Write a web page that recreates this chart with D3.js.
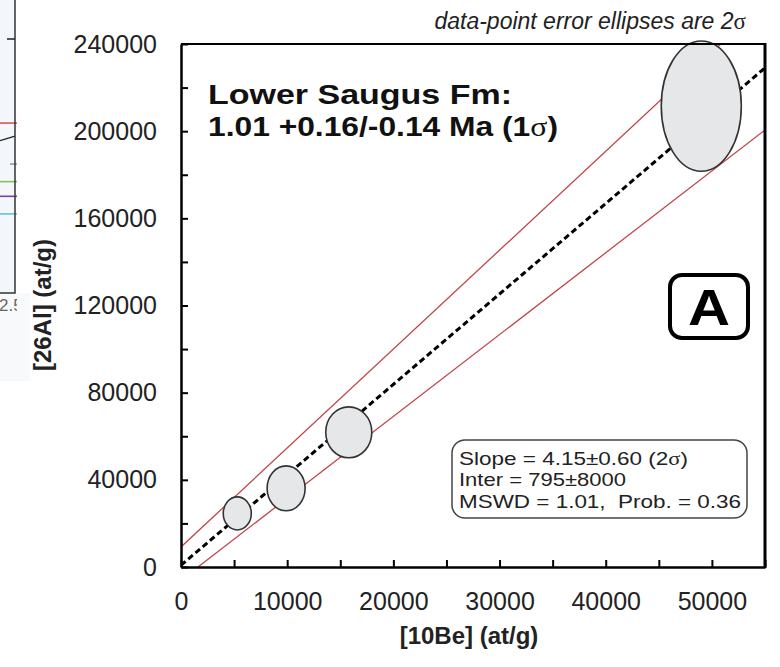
<!DOCTYPE html>
<html>
<head>
<meta charset="utf-8">
<script src="https://cdn.jsdelivr.net/npm/d3@7"></script>
<style>
  html, body { margin: 0; padding: 0; background: #fff; }
  svg { display: block; font-family: "Liberation Sans", Arial, sans-serif; }
</style>
</head>
<body>
<svg id="chart" width="780" height="667"></svg>
<script>
// ---------- data ----------
const be10 = [5300, 9900, 15800, 49000];          // ellipse centres, [10Be] (at/g)
const al26 = [24600, 36100, 61800, 211500];       // ellipse centres, [26Al] (at/g)
const be10Err = [1320, 1790, 2170, 3770];         // ellipse half-widths (2σ)
const al26Err = [7600, 10300, 11700, 29900];      // ellipse half-heights (2σ)

const fitSlope = 4.15, fitIntercept = 795;        // isochron fit
const envSlopes = [4.54, 3.755];                  // error envelope (upper, lower)
const envIntercepts = [9200, -6000];

const xTicks = [0, 5000, 10000, 15000, 20000, 25000, 30000, 35000, 40000, 45000, 50000, 55000];
const xTickLabels = ["0", "", "10000", "", "20000", "", "30000", "", "40000", "", "50000", ""];
const yTicks = [0, 20000, 40000, 60000, 80000, 100000, 120000, 140000, 160000, 180000, 200000, 220000, 240000];
const yTickLabels = ["0", "", "40000", "", "80000", "", "120000", "", "160000", "", "200000", "", "240000"];

const statLines = ["Slope = 4.15±0.60 (2σ)", "Inter = 795±8000", "MSWD = 1.01,\u00a0\u00a0Prob. = 0.36"];

// fragment of the neighbouring panel (cut off at left edge)
const fragLevels = [0.58, 0.44, 0.38, 0.33, 0.27];
const fragColors = ["#e0524f", "#9a9a9a", "#8cc152", "#7b3fa8", "#5ec3e0"];

// ---------- layout ----------
const svg = d3.select("#chart");
const L = 181, R = 765, T = 44, B = 567;
const x = d3.scaleLinear().domain([0, 55000]).range([L, R]);
const y = d3.scaleLinear().domain([0, 240000]).range([B, T]);

// neighbour panel fragment
const fy = d3.scaleLinear().domain([0, 1]).range([293, 0]);
svg.append("rect").attr("x", 0).attr("y", 0).attr("width", 15).attr("height", 293).attr("fill", "#f3f6fa");
svg.append("rect").attr("x", 0).attr("y", 293).attr("width", 30).attr("height", 88).attr("fill", "#f8f9fb");
svg.selectAll("line.frag").data(fragLevels).join("line").attr("class", "frag")
  .attr("x1", (d, i) => i === 1 ? 10 : 0).attr("x2", 17)
  .attr("y1", d => fy(d)).attr("y2", d => fy(d))
  .attr("stroke", (d, i) => fragColors[i]).attr("stroke-width", 1.6);
svg.append("line").attr("x1", 0).attr("x2", 15).attr("y1", fy(0.52)).attr("y2", fy(0.535))
  .attr("stroke", "#222").attr("stroke-width", 1.3);
svg.append("path").attr("d", "M15,0V293H0").attr("fill", "none").attr("stroke", "#333").attr("stroke-width", 1.5);
svg.append("line").attr("x1", 7).attr("x2", 15).attr("y1", 39).attr("y2", 39).attr("stroke", "#222").attr("stroke-width", 1.5);
svg.append("clipPath").attr("id", "fragclip").append("rect").attr("x", 0).attr("y", 280).attr("width", 17).attr("height", 40);
svg.append("text").attr("x", -1).attr("y", 311).attr("clip-path", "url(#fragclip)")
  .attr("font-size", 17).attr("fill", "#666").text("2.5");

// clip for plot content
svg.append("clipPath").attr("id", "plotclip").append("rect")
  .attr("x", L).attr("y", T).attr("width", R - L).attr("height", B - T);

// envelope lines
const xDom = x.domain();
svg.append("g").attr("clip-path", "url(#plotclip)")
  .selectAll("line").data(envSlopes).join("line")
  .attr("x1", x(xDom[0])).attr("x2", x(xDom[1]))
  .attr("y1", (s, i) => y(s * xDom[0] + envIntercepts[i]))
  .attr("y2", (s, i) => y(s * xDom[1] + envIntercepts[i]))
  .attr("stroke", "#c0454a").attr("stroke-width", 1.3);

// fit line
svg.append("line").attr("clip-path", "url(#plotclip)")
  .attr("x1", x(xDom[0])).attr("x2", x(xDom[1]))
  .attr("y1", y(fitSlope * xDom[0] + fitIntercept)).attr("y2", y(fitSlope * xDom[1] + fitIntercept))
  .attr("stroke", "#000").attr("stroke-width", 3).attr("stroke-dasharray", "6,3.5");

// ellipses
svg.append("g").selectAll("ellipse").data(be10).join("ellipse")
  .attr("cx", d => x(d)).attr("cy", (d, i) => y(al26[i]))
  .attr("rx", (d, i) => x(be10Err[i]) - x(0))
  .attr("ry", (d, i) => y(0) - y(al26Err[i]))
  .attr("fill", "#e6e7e9").attr("stroke", "#333").attr("stroke-width", 1.6);

// axes
const xAxis = d3.axisBottom(x).tickValues(xTicks)
  .tickFormat((d, i) => xTickLabels[i]).tickSizeInner(-7).tickSizeOuter(0).tickPadding(25);
const gx = svg.append("g").attr("transform", `translate(0,${B})`).call(xAxis);
gx.select(".domain").attr("stroke-width", 2.5);
gx.selectAll(".tick line").attr("stroke-width", 2);
gx.selectAll("text").attr("font-size", 25).attr("fill", "#222").attr("font-family", "Liberation Sans, Arial, sans-serif");

const yAxis = d3.axisLeft(y).tickValues(yTicks)
  .tickFormat((d, i) => yTickLabels[i]).tickSizeInner(-7).tickSizeOuter(0).tickPadding(24);
const gy = svg.append("g").attr("transform", `translate(${L},0)`).call(yAxis);
gy.select(".domain").attr("stroke-width", 2.5);
gy.selectAll(".tick line").attr("stroke-width", 2);
gy.selectAll("text").attr("font-size", 25).attr("fill", "#222").attr("font-family", "Liberation Sans, Arial, sans-serif");

// top & right borders
svg.append("line").attr("x1", L).attr("x2", R).attr("y1", T).attr("y2", T).attr("stroke", "#000").attr("stroke-width", 2);
svg.append("line").attr("x1", R).attr("x2", R).attr("y1", T - 1).attr("y2", B + 1).attr("stroke", "#000").attr("stroke-width", 3);

// axis titles
svg.append("text").attr("x", 469).attr("y", 644).attr("text-anchor", "middle")
  .attr("font-size", 24).attr("font-weight", "bold").attr("fill", "#222").text("[10Be] (at/g)");
svg.append("text").attr("transform", "translate(51,305) rotate(-90)").attr("text-anchor", "middle")
  .attr("font-size", 24).attr("font-weight", "bold").attr("fill", "#222").text("[26Al] (at/g)");

// note
const note = svg.append("text").attr("x", 746).attr("y", 29).attr("text-anchor", "end")
  .attr("font-size", 23).attr("font-style", "italic").attr("fill", "#222");
note.append("tspan").text("data-point error ellipses are 2");
note.append("tspan").attr("font-family", "Liberation Serif, serif").attr("font-style", "normal").text("σ");

// title
svg.append("text").attr("x", 208).attr("y", 104).attr("font-size", 27).attr("font-weight", "bold")
  .attr("fill", "#111").attr("textLength", 304).attr("lengthAdjust", "spacingAndGlyphs").text("Lower Saugus Fm:");
const t2 = svg.append("text").attr("x", 208).attr("y", 136).attr("font-size", 27).attr("font-weight", "bold")
  .attr("fill", "#111").attr("textLength", 350).attr("lengthAdjust", "spacingAndGlyphs");
t2.append("tspan").text("1.01 +0.16/-0.14 Ma (1");
t2.append("tspan").attr("font-family", "Liberation Serif, serif").attr("font-weight", "normal").text("σ");
t2.append("tspan").text(")");

// "A" box
svg.append("rect").attr("x", 670).attr("y", 275).attr("width", 78).attr("height", 63).attr("rx", 12)
  .attr("fill", "#fff").attr("stroke", "#000").attr("stroke-width", 4);
svg.append("text").attr("x", 709).attr("y", 325).attr("text-anchor", "middle").attr("font-size", 50)
  .attr("font-weight", "bold").attr("textLength", 42).attr("lengthAdjust", "spacingAndGlyphs").text("A");

// stats box
svg.append("rect").attr("x", 452).attr("y", 440).attr("width", 295).attr("height", 78).attr("rx", 13)
  .attr("fill", "#fff").attr("stroke", "#444").attr("stroke-width", 1.5);
const statY = [465, 486, 508];
const statW = [229, 167, 282];
svg.selectAll("text.stat").data(statLines).join("text").attr("class", "stat")
  .attr("x", 459).attr("y", (d, i) => statY[i]).attr("font-size", 19).attr("fill", "#222")
  .attr("textLength", (d, i) => statW[i]).attr("lengthAdjust", "spacingAndGlyphs")
  .each(function(d) {
    const parts = d.split("σ");
    const sel = d3.select(this);
    parts.forEach((p, j) => {
      sel.append("tspan").text(p);
      if (j < parts.length - 1) sel.append("tspan").attr("font-family", "Liberation Serif, serif").text("σ");
    });
  });
</script>
</body>
</html>
